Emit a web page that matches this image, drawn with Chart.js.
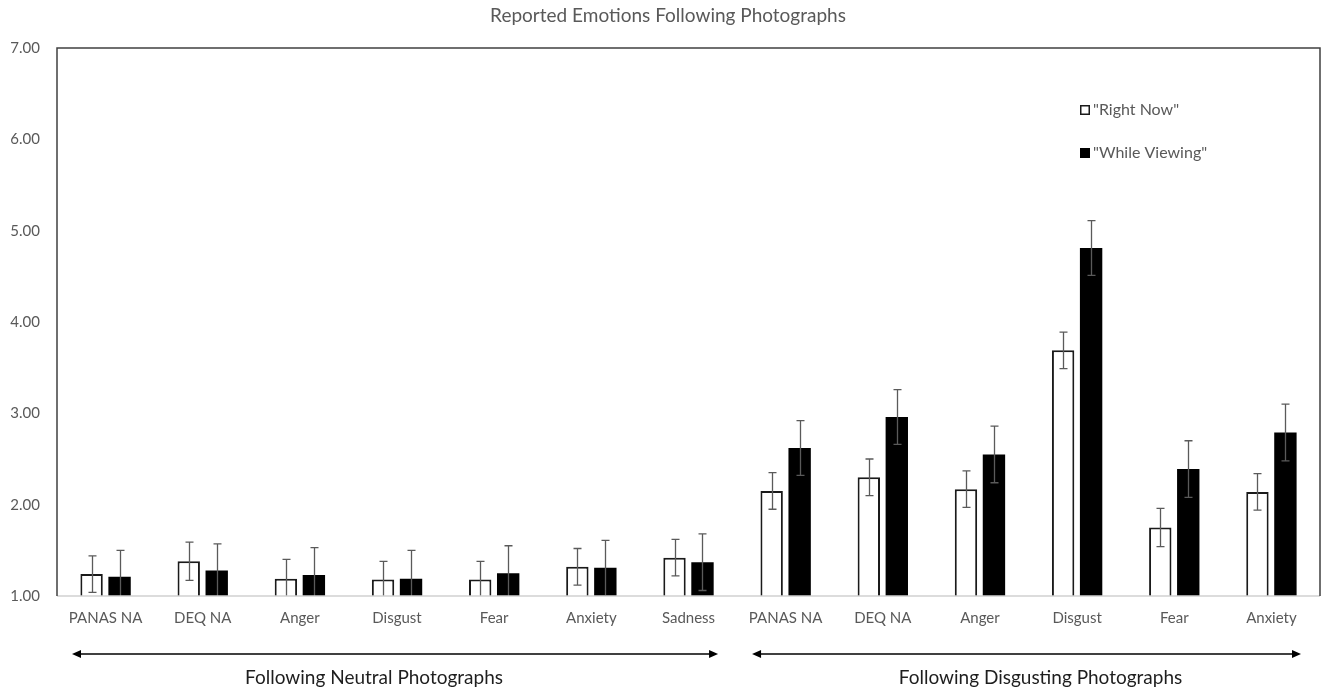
<!DOCTYPE html>
<html>
<head>
<meta charset="utf-8">
<script src="https://cdn.jsdelivr.net/npm/chart.js@4.4.1/dist/chart.umd.min.js"></script>
<style>
  html, body { margin: 0; padding: 0; background: #fff; }
  #wrap { width: 1322px; height: 691px; position: relative; }
</style>
</head>
<body>
<div id="wrap"><canvas id="c"></canvas></div>
<script>
// Mean ratings with standard-error bars, two response framings per emotion
const categories = ["PANAS NA", "DEQ NA", "Anger", "Disgust", "Fear", "Anxiety", "Sadness",
                    "PANAS NA", "DEQ NA", "Anger", "Disgust", "Fear", "Anxiety"];
const rightNow        = [1.24, 1.38, 1.19, 1.18, 1.18, 1.32, 1.42, 2.15, 2.30, 2.17, 3.69, 1.75, 2.14];
const rightNowErr     = [0.20, 0.21, 0.21, 0.20, 0.20, 0.20, 0.20, 0.20, 0.20, 0.20, 0.20, 0.21, 0.20];
const whileViewing    = [1.21, 1.28, 1.23, 1.19, 1.25, 1.31, 1.37, 2.62, 2.96, 2.55, 4.81, 2.39, 2.79];
const whileViewingErr = [0.29, 0.29, 0.30, 0.31, 0.30, 0.30, 0.31, 0.30, 0.30, 0.31, 0.30, 0.31, 0.31];
const yTicks = [1, 2, 3, 4, 5, 6, 7];
const seriesNames = ['"Right Now"', '"While Viewing"'];
const groupNames = ["Following Neutral Photographs", "Following Disgusting Photographs"];
const groupSizes = [7, 6];
const chartTitle = "Reported Emotions Following Photographs";

const FONT = "Lato, 'Open Sans', sans-serif";
const GREY_TEXT = "#595959";

// Vertical error bars centred on each bar
const errorBars = {
  id: "errorBars",
  afterDatasetsDraw(chart) {
    const { ctx, chartArea, scales: { y } } = chart;
    ctx.save();
    ctx.beginPath();
    ctx.rect(chartArea.left, chartArea.top, chartArea.right - chartArea.left, chartArea.bottom - chartArea.top);
    ctx.clip();
    ctx.strokeStyle = "#5a5a5a";
    ctx.lineWidth = 1.3;
    chart.data.datasets.forEach((ds, di) => {
      const meta = chart.getDatasetMeta(di);
      meta.data.forEach((bar, i) => {
        const v = ds.data[i], e = ds.errors[i];
        const yt = y.getPixelForValue(v + e);
        const yb = y.getPixelForValue(v - e);
        const x = Math.round(bar.x) + 0.5;
        ctx.beginPath();
        ctx.moveTo(x, yt); ctx.lineTo(x, yb);
        ctx.moveTo(x - 4, yt); ctx.lineTo(x + 4, yt);
        if (yb < chartArea.bottom - 1) { ctx.moveTo(x - 4, yb); ctx.lineTo(x + 4, yb); }
        ctx.stroke();
      });
    });
    ctx.restore();
  }
};

// Plot frame, title, legend, and group arrows below the category labels
const decorations = {
  id: "decorations",
  afterDraw(chart) {
    const { ctx, chartArea: a, scales: { x } } = chart;
    ctx.save();

    // frame
    ctx.lineWidth = 1.5;
    ctx.strokeStyle = "#d0d0d0";
    ctx.beginPath(); ctx.moveTo(a.left, a.bottom); ctx.lineTo(a.right, a.bottom); ctx.stroke();
    ctx.strokeStyle = "#404040";
    ctx.beginPath();
    ctx.moveTo(a.left, a.bottom); ctx.lineTo(a.left, a.top);
    ctx.lineTo(a.right, a.top); ctx.lineTo(a.right, a.bottom);
    ctx.stroke();

    // title
    ctx.fillStyle = GREY_TEXT;
    ctx.font = "19px " + FONT;
    ctx.textAlign = "center";
    ctx.textBaseline = "middle";
    ctx.fillText(chartTitle, chart.width / 2 + 7, 16);

    // legend
    const lx = a.right - 240;
    const rows = [a.top + 62, a.top + 105];
    chart.data.datasets.forEach((ds, i) => {
      const cy = rows[i];
      ctx.fillStyle = ds.backgroundColor;
      ctx.fillRect(lx, cy - 5, 10, 10);
      if (ds.borderWidth) {
        ctx.strokeStyle = ds.borderColor;
        ctx.lineWidth = 1.5;
        ctx.strokeRect(lx + 0.75, cy - 4.25, 8.5, 8.5);
      }
      ctx.fillStyle = GREY_TEXT;
      ctx.font = "16px " + FONT;
      ctx.textAlign = "left";
      ctx.fillText(seriesNames[i], lx + 13, cy);
    });

    // group arrows and labels
    const catW = (x.right - x.left) / categories.length;
    const arrowY = a.bottom + 58;
    const labelY = a.bottom + 82;
    const labelShift = [-23, 12];
    let start = 0;
    groupSizes.forEach((n, g) => {
      const gx0 = x.left + start * catW;
      const gx1 = x.left + (start + n) * catW;
      const x0 = gx0 + 15, x1 = gx1 - 19;
      ctx.strokeStyle = "#000";
      ctx.fillStyle = "#000";
      ctx.lineWidth = 1.5;
      ctx.beginPath(); ctx.moveTo(x0 + 4, arrowY); ctx.lineTo(x1 - 4, arrowY); ctx.stroke();
      ctx.beginPath(); ctx.moveTo(x0, arrowY); ctx.lineTo(x0 + 9, arrowY - 4); ctx.lineTo(x0 + 9, arrowY + 4); ctx.closePath(); ctx.fill();
      ctx.beginPath(); ctx.moveTo(x1, arrowY); ctx.lineTo(x1 - 9, arrowY - 4); ctx.lineTo(x1 - 9, arrowY + 4); ctx.closePath(); ctx.fill();
      ctx.fillStyle = "#1e1e1e";
      ctx.font = "19px " + FONT;
      ctx.textAlign = "center";
      ctx.fillText(groupNames[g], (gx0 + gx1) / 2 + labelShift[g], labelY);
      start += n;
    });
    ctx.restore();
  }
};

new Chart(document.getElementById("c"), {
  type: "bar",
  data: {
    labels: categories,
    datasets: [
      {
        label: seriesNames[0],
        data: rightNow,
        errors: rightNowErr,
        backgroundColor: "#ffffff",
        borderColor: "#1a1a1a",
        borderWidth: { top: 2, left: 2, right: 2, bottom: 0 },
        borderSkipped: "bottom"
      },
      {
        label: seriesNames[1],
        data: whileViewing,
        errors: whileViewingErr,
        backgroundColor: "#000000",
        borderWidth: 0
      }
    ]
  },
  options: {
    responsive: true,
    maintainAspectRatio: false,
    animation: false,
    devicePixelRatio: 1,
    categoryPercentage: 0.576,
    barPercentage: 0.8,
    layout: { padding: { top: 48, right: 2, left: 0, bottom: 0 } },
    plugins: {
      legend: { display: false },
      title: { display: false },
      tooltip: { enabled: false }
    },
    scales: {
      x: {
        grid: { display: false, drawTicks: false },
        border: { display: false },
        ticks: { color: GREY_TEXT, font: { family: FONT, size: 15 }, padding: 13, maxRotation: 0, autoSkip: false },
        afterFit(scale) { scale.height = 95; }
      },
      y: {
        min: 1,
        max: 7,
        grid: { display: false, drawTicks: false },
        border: { display: false },
        afterBuildTicks(scale) { scale.ticks = yTicks.map(v => ({ value: v })); },
        ticks: {
          color: GREY_TEXT,
          font: { family: FONT, size: 15 },
          padding: 17,
          callback: v => Number(v).toFixed(2)
        },
        afterFit(scale) { scale.width = 57; }
      }
    }
  },
  plugins: [errorBars, decorations]
});
</script>
</body>
</html>
